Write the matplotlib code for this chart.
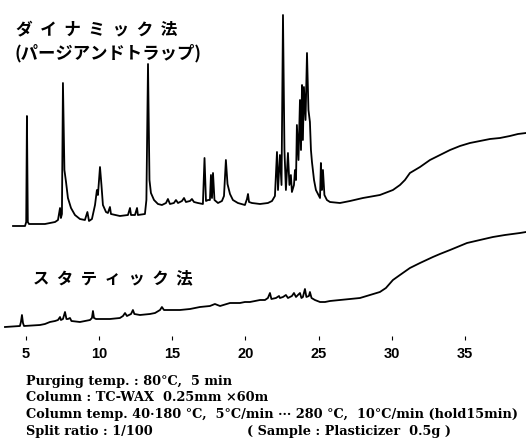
import matplotlib
matplotlib.use("Agg")
import matplotlib.pyplot as plt

# ---- data (retention time in min, detector signal in arbitrary units) ----
dyn_time = [4.13, 4.95, 5.03, 5.08, 5.14, 5.22, 6.31, 7.00, 7.20, 7.34, 7.40, 7.47, 7.54, 7.64, 7.75,
            7.88, 8.09, 8.36, 8.70, 9.04, 9.21, 9.32, 9.52, 9.73, 9.86, 9.93, 10.07, 10.17, 10.27,
            10.48, 10.61, 10.75, 10.82, 11.43, 11.98, 12.12, 12.19, 12.46, 12.60, 12.66, 13.14,
            13.24, 13.35, 13.45, 13.55, 13.76, 14.03, 14.30, 14.58, 14.71, 14.85, 15.12, 15.26,
            15.40, 15.67, 15.81, 15.94, 16.22, 16.35, 16.49, 16.76, 17.10, 17.21, 17.31, 17.45,
            17.58, 17.65, 17.72, 17.79, 17.89, 18.13, 18.40, 18.54, 18.67, 18.78, 18.95, 19.15,
            19.49, 19.97, 20.11, 20.18, 20.25, 20.45, 21.00, 21.54, 21.82, 22.02, 22.16, 22.23,
            22.36, 22.47, 22.57, 22.67, 22.77, 22.91, 23.01, 23.11, 23.18, 23.32, 23.39, 23.46,
            23.52, 23.63, 23.73, 23.80, 23.87, 23.93, 24.00, 24.11, 24.21, 24.31, 24.41, 24.48,
            24.55, 24.69, 24.82, 24.96, 25.10, 25.16, 25.23, 25.30, 25.40, 25.57, 25.78, 26.46,
            27.15, 28.03, 29.19, 30.08, 30.56, 30.90, 31.24, 31.93, 32.61, 33.29, 33.98, 34.66,
            35.34, 36.02, 36.71, 37.39, 38.07, 38.62, 39.17]
dyn_signal = [0, 0, 4, 110, 4, 2, 2, 4, 6, 18, 8, 12, 143, 56, 44,
              28, 18, 11, 7, 6, 14, 5, 7, 21, 36, 31, 59, 41, 21,
              14, 13, 19, 12, 10, 11, 18, 11, 11, 18, 11, 12,
              26, 162, 46, 33, 26, 22, 21, 23, 27, 22, 23, 26,
              23, 25, 28, 24, 25, 27, 24, 23, 22, 68, 25, 26,
              26, 51, 28, 53, 26, 23, 25, 30, 66, 42, 32, 26,
              23, 21, 27, 32, 24, 23, 22, 23, 25, 30, 74, 36,
              71, 41, 211, 76, 36, 73, 41, 51, 34, 41, 56, 46,
              101, 66, 126, 76, 141, 86, 139, 106, 173, 116, 104, 76,
              64, 46, 36, 32, 28, 63, 36, 56, 31, 26, 24, 23,
              25, 28, 31, 36, 41, 46, 53, 59, 66, 71, 76, 80,
              83, 85, 87, 88, 90, 92, 93]

sta_time = [3.58, 4.60, 4.67, 4.74, 4.81, 4.88, 5.97, 6.31, 6.65, 7.00, 7.20, 7.34, 7.40, 7.54, 7.68,
            7.78, 7.88, 8.02, 8.12, 8.70, 9.39, 9.52, 9.59, 9.66, 9.80, 10.75, 11.43, 11.64, 11.78,
            11.91, 12.19, 12.32, 12.42, 12.80, 13.48, 13.83, 14.17, 14.30, 14.44, 14.85, 15.53,
            16.22, 16.90, 17.58, 17.92, 18.27, 18.95, 19.63, 19.97, 20.31, 20.66, 21.00, 21.34,
            21.54, 21.68, 21.78, 22.09, 22.30, 22.36, 22.57, 22.77, 22.91, 23.18, 23.32, 23.46,
            23.59, 23.73, 23.83, 23.93, 24.07, 24.17, 24.34, 24.41, 24.52, 24.75, 25.10, 25.44,
            25.78, 26.46, 27.15, 27.83, 28.51, 29.19, 29.60, 30.08, 30.56, 31.24, 31.93, 32.81,
            33.29, 33.98, 35.14, 36.02, 36.91, 37.73, 38.76, 39.17]
sta_signal = [0, 1, 5, 12, 4, 1, 2, 3, 5, 6, 7, 10, 7, 8, 15,
              8, 8, 9, 6, 5, 7, 9, 16, 9, 8, 8, 9, 11, 14,
              11, 13, 17, 13, 12, 13, 14, 17, 20, 17, 17, 17,
              18, 20, 21, 23, 21, 24, 24, 25, 25, 26, 27, 27,
              29, 34, 28, 29, 31, 29, 30, 32, 29, 31, 34, 30,
              32, 34, 29, 30, 38, 30, 31, 35, 29, 27, 25, 25,
              26, 27, 28, 29, 32, 35, 39, 47, 52, 59, 64, 70,
              73, 77, 84, 87, 90, 92, 94, 95]

tick_values = [5, 10, 15, 20, 25, 30, 35]

title_dyn = "ダ  イ  ナ  ミ  ッ  ク  法"
subtitle_dyn = "(パージアンドトラップ)"
title_sta = "ス  タ  テ  ィ  ッ  ク  法"
cond_lines = ["Purging temp. : 80°C,  5 min",
              "Column : TC-WAX  0.25mm ×60m",
              "Column temp. 40·180 °C,  5°C/min ··· 280 °C,  10°C/min (hold15min)",
              "Split ratio : 1/100"]
sample_note = "( Sample : Plasticizer  0.5g )"

# ---- layout ----
W, H = 526, 441
fig = plt.figure(figsize=(W / 100, H / 100), dpi=100)
fig.patch.set_facecolor("white")
ax = fig.add_axes([0, 101 / H, 1, 340 / H])
ax.set_xlim(3.24, 39.17)
ax.set_ylim(0, 340)

dyn_offset = 114
sta_offset = 13
ax.plot(dyn_time, [v + dyn_offset for v in dyn_signal], color="black", lw=1.3)
ax.plot(sta_time, [v + sta_offset for v in sta_signal], color="black", lw=1.3)

for s in ax.spines.values():
    s.set_visible(False)
ax.set_yticks([])
ax.set_xticks(tick_values)
ax.set_xticklabels([str(t) for t in tick_values], fontfamily="Liberation Sans",
                   fontweight="bold", fontsize=10.5)
ax.tick_params(axis="x", direction="in", length=3.2, width=0.8, pad=5, color="black")

jp = ["Noto Sans CJK JP", "DejaVu Sans"]
fig.text(16 / W, 1 - 29 / H, title_dyn, family=jp, fontweight="bold", fontsize=12,
         va="center", ha="left")
fig.text(15 / W, 1 - 53 / H, subtitle_dyn, family=jp, fontweight="bold", fontsize=12.5,
         va="center", ha="left")
fig.text(33 / W, 1 - 278 / H, title_sta, family=jp, fontweight="bold", fontsize=11.8,
         va="center", ha="left")

baselines = [385, 401, 418, 435]
for line, yb in zip(cond_lines, baselines):
    fig.text(26 / W, 1 - yb / H, line, family="DejaVu Serif", fontweight="bold",
             fontsize=9.3, va="baseline", ha="left")
fig.text(247 / W, 1 - 435 / H, sample_note, family="DejaVu Serif", fontweight="bold",
         fontsize=9.3, va="baseline", ha="left")

fig.savefig("out.png", dpi=100, facecolor="white")
